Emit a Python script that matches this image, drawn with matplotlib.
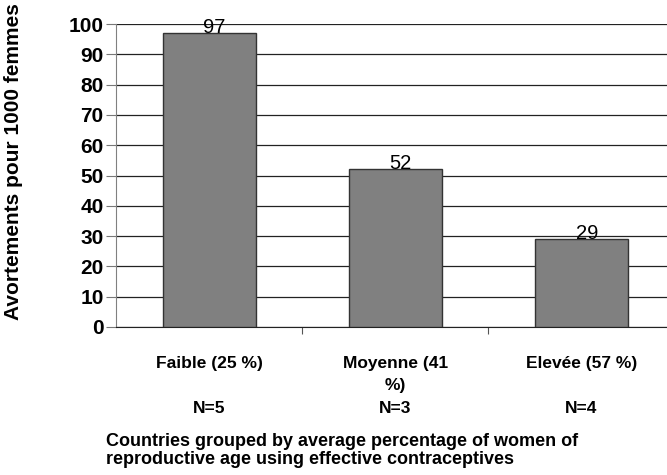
import matplotlib.pyplot as plt

categories = ['Faible (25 %)', 'Moyenne (41\n%)', 'Elevée (57 %)']
counts = ['N=5', 'N=3', 'N=4']
values = [97, 52, 29]
yticks = list(range(0, 101, 10))

plt.rcParams['font.family'] = ['Liberation Sans', 'DejaVu Sans']

fig = plt.figure(figsize=(6.67, 4.75), dpi=100)
ax = fig.add_axes([116 / 667, 148 / 475, 551 / 667, 303 / 475])

xs = list(range(len(values)))
ax.bar(xs, values, width=0.5, color='#808080', edgecolor='#333333', linewidth=1, zorder=3)
for x, v in zip(xs, values):
    ax.text(x + 0.03, v - 1.2, str(v), ha='center', va='bottom', fontsize=14.5, zorder=4)

ax.set_xlim(-0.5, 2.46)
ax.set_ylim(0, 100)
ax.set_yticks(yticks)
ax.set_yticklabels([str(t) for t in yticks], fontsize=15, fontweight='bold')
ax.yaxis.grid(True, color='#222222', linewidth=0.9, zorder=0)
ax.tick_params(axis='y', length=7, width=0.8, color='#777777', pad=2)

# tick marks at category boundaries, labels drawn as text under bars
ax.set_xticks([0.5, 1.5])
ax.set_xticklabels([])
ax.tick_params(axis='x', length=5, width=0.8, color='#555555', direction='out')
for x, lab, n in zip(xs, categories, counts):
    ax.text(x, -9.5, lab, ha='center', va='top', fontsize=12.5, fontweight='bold',
            linespacing=1.6, clip_on=False)
    ax.text(x, -24.5, n, ha='center', va='top', fontsize=12.5, fontweight='bold',
            clip_on=False)

for s in ['top', 'right']:
    ax.spines[s].set_visible(False)
ax.spines['left'].set_color('#808080')
ax.spines['bottom'].set_color('#222222')

ax.set_ylabel('Avortements pour 1000 femmes', fontsize=15, fontweight='bold')
ax.yaxis.set_label_coords(-0.168, 0.545)

fig.text(106 / 667, 1 - 441 / 475, 'Countries grouped by average percentage of women of',
         ha='left', va='center', fontsize=13, fontweight='bold')
fig.text(106 / 667, 1 - 460 / 475, 'reproductive age using effective contraceptives',
         ha='left', va='center', fontsize=13, fontweight='bold')

fig.savefig('out.png', dpi=100)
